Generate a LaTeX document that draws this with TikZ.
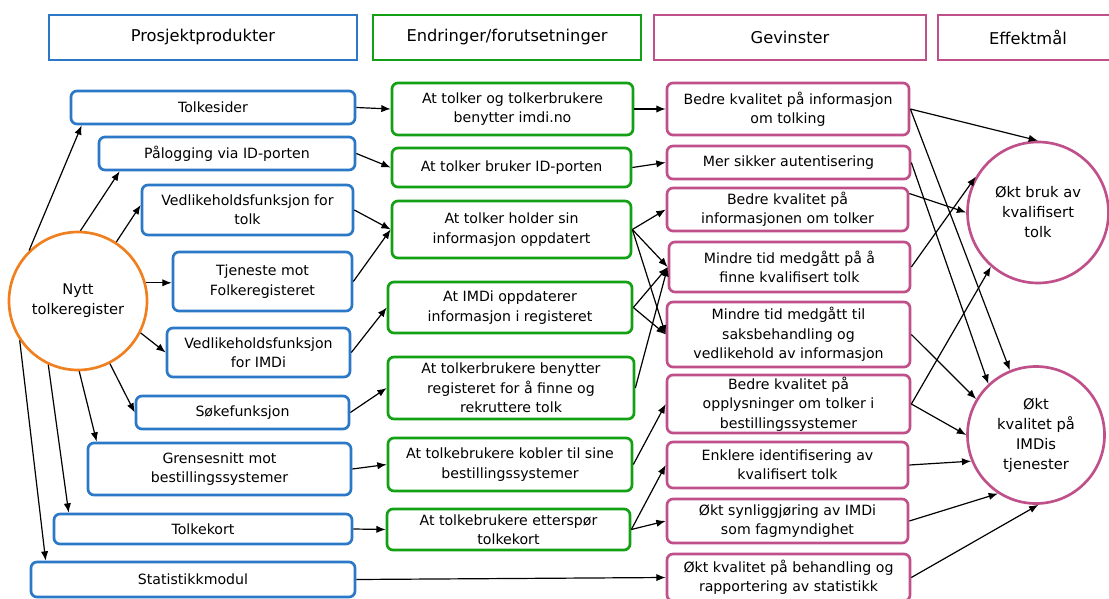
\documentclass[tikz,border=0pt]{standalone}
\usepackage{fontspec}
\setmainfont{DejaVu Sans}
\usetikzlibrary{arrows.meta,calc}
\definecolor{prodblue}{RGB}{43,120,198}
\definecolor{chggreen}{RGB}{20,160,20}
\definecolor{gainpink}{RGB}{192,80,138}
\definecolor{nyttorange}{RGB}{240,127,32}
\tikzset{
  hdr/.style={draw, line width=1.8pt, rectangle, minimum height=33.75pt, inner sep=1pt, font=\fontsize{12.2}{15}\selectfont},
  rbox/.style={draw, line width=2pt, rounded corners=4.5pt, align=center, inner xsep=2pt, inner ysep=1pt, font=\fontsize{10.6}{14.5}\selectfont},
  prod/.style={rbox, draw=prodblue},
  chg/.style={rbox, draw=chggreen},
  gain/.style={rbox, draw=gainpink},
  goal/.style={circle, draw, line width=2pt, align=center, inner sep=0pt, font=\fontsize{11}{15}\selectfont},
  arr/.style={-{Latex[length=7pt,width=5.5pt]}, line width=0.9pt},
}
\begin{document}
\begin{tikzpicture}[x=0.75pt,y=0.75pt,yscale=-1,xscale=1]
\clip (0,0) rectangle (1109,599);

%Headers
\node[hdr, draw=prodblue, minimum width=231pt] (hprod) at (203,37.5) {Prosjektprodukter};
\node[hdr, draw=chggreen, minimum width=201pt] (hchg) at (507,37.5) {Endringer/forutsetninger};
\node[hdr, draw=gainpink, minimum width=204pt] (hgain) at (790,37.5) {Gevinster};
\node[hdr, draw=gainpink, minimum width=135pt] (hgoal) at (1028,37.5) {Effektmål};

%Circle: Nytt tolkeregister
\node[goal, draw=nyttorange, minimum size=103.5pt] (nytt) at (78,301) {Nytt\\tolkeregister};

%Prosjektprodukter
\node[prod, minimum width=213pt, minimum height=24.75pt] (p1) at (213,107.5) {Tolkesider};
\node[prod, minimum width=192pt, minimum height=24.75pt] (p2) at (227,153.5) {Pålogging via ID-porten};
\node[prod, minimum width=158.25pt, minimum height=37.5pt] (p3) at (247.5,210) {Vedlikeholdsfunksjon for\\tolk};
\node[prod, minimum width=134.25pt, minimum height=44.25pt] (p4) at (262.5,281.5) {Tjeneste mot\\Folkeregisteret};
\node[prod, minimum width=137.25pt, minimum height=36.75pt] (p5) at (258.5,352.5) {Vedlikeholdsfunksjon\\for IMDi};
\node[prod, minimum width=159.75pt, minimum height=24.75pt] (p6) at (242.5,412.5) {Søkefunksjon};
\node[prod, minimum width=197.25pt, minimum height=39pt] (p7) at (219.5,469) {Grensesnitt mot\\bestillingssystemer};
\node[prod, minimum width=223.5pt, minimum height=22.5pt] (p8) at (203,529) {Tolkekort};
\node[prod, minimum width=243pt, minimum height=26.25pt] (p9) at (193,579.5) {Statistikkmodul};

%Endringer/forutsetninger
\node[chg, minimum width=180.75pt, minimum height=39pt] (e1) at (512.5,109) {At tolker og tolkerbrukere\\benytter imdi.no};
\node[chg, minimum width=179.25pt, minimum height=29.25pt] (e2) at (511.5,167.5) {At tolker bruker ID-porten};
\node[chg, minimum width=179.25pt, minimum height=42.75pt] (e3) at (511.5,229.5) {At tolker holder sin\\informasjon oppdatert};
\node[chg, minimum width=183pt, minimum height=38.25pt] (e4) at (510,307.5) {At IMDi oppdaterer\\informasjon i registeret};
\node[chg, minimum width=184.5pt, minimum height=46.5pt] (e5) at (511,388) {At tolkerbrukere benytter\\registeret for å finne og\\rekruttere tolk};
\node[chg, minimum width=183pt, minimum height=39.75pt] (e6) at (510,464.5) {At tolkebrukere kobler til sine\\bestillingssystemer};
\node[chg, minimum width=182.25pt, minimum height=30.75pt] (e7) at (508.5,529.5) {At tolkebrukere etterspør\\tolkekort};

%Gevinster
\node[gain, minimum width=181.5pt, minimum height=39pt] (g1) at (788,109) {Bedre kvalitet på informasjon\\om tolking};
\node[gain, minimum width=182.25pt, minimum height=24.75pt] (g2) at (788.5,162.5) {Mer sikker autentisering};
\node[gain, minimum width=180.75pt, minimum height=32.25pt] (g3) at (787.5,209.5) {Bedre kvalitet på\\informasjonen om tolker};
\node[gain, minimum width=180.75pt, minimum height=37.5pt] (g4) at (789.5,267) {Mindre tid medgått på å\\finne kvalifisert tolk};
\node[gain, minimum width=182.25pt, minimum height=48.75pt] (g5) at (788.5,334.5) {Mindre tid medgått til\\saksbehandling og\\vedlikehold av informasjon};
\node[gain, minimum width=182.25pt, minimum height=43.5pt] (g6) at (788.5,404) {Bedre kvalitet på\\opplysninger om tolker i\\bestillingssystemer};
\node[gain, minimum width=180.75pt, minimum height=34.5pt] (g7) at (787.5,465) {Enklere identifisering av\\kvalifisert tolk};
\node[gain, minimum width=180.75pt, minimum height=33pt] (g8) at (787.5,521) {Økt synliggjøring av IMDi\\som fagmyndighet};
\node[gain, minimum width=182.25pt, minimum height=35.25pt] (g9) at (788.5,577.5) {Økt kvalitet på behandling og\\rapportering av statistikk};

%Effektmål
\node[goal, draw=gainpink, minimum size=105.75pt] (bruk) at (1038,212.5) {Økt bruk av\\kvalifisert\\tolk};
\node[goal, draw=gainpink, minimum size=102.75pt] (kval) at (1036,435) {Økt\\kvalitet på\\IMDis\\tjenester};

%Arrows: Nytt tolkeregister -> produkter
\draw[arr] (nytt.134) -- ($(p1.south west)+(12,0)$);
\draw[arr] (nytt.88) -- ($(p2.south west)+(22,0)$);
\draw[arr] (nytt.57) -- ($(p3.west)+(0,-5)$);
\draw[arr] (nytt.15) -- (nytt.15 -| p4.west);
\draw[arr] (nytt.-27) -- (p5.west);
\draw[arr] (nytt.-63) -- (p6.west);
\draw[arr] (nytt.-89) -- ($(p7.north west)+(10,0)$);
\draw[arr] (nytt.-115) -- ($(p8.north west)+(16,0)$);
\draw[arr] (nytt.-146) -- ($(p9.north west)+(16,0)$);

%Arrows: produkter -> endringer
\draw[arr] (p1.east) -- (e1.west);
\draw[arr] (p2.east) -- (e2.west);
\draw[arr] (p3.east) -- (e3.west);
\draw[arr] (p4.east) -- (e3.west);
\draw[arr] (p5.east) -- (e4.west);
\draw[arr] (p6.east) -- (e5.west);
\draw[arr] (p7.east) -- (e6.west);
\draw[arr] (p8.east) -- (e7.west);
\draw[arr] (p9.east) -- (g9.west);

%Arrows: endringer -> gevinster
\draw[arr] (e1.east) -- (g1.west);
\draw[arr] (e2.east) -- (g2.west);
\draw[arr] (e3.east) -- (g3.west);
\draw[arr] (e3.east) -- (g4.west);
\draw[arr] (e3.east) -- (g5.west);
\draw[arr] (e4.east) -- (g4.west);
\draw[arr] (e4.east) -- (g5.west);
\draw[arr] (e5.east) -- (g4.west);
\draw[arr] (e6.east) -- (g6.west);
\draw[arr] (e7.east) -- (g7.west);
\draw[arr] (e7.east) -- (g8.west);

%Arrows: gevinster -> effektmål
\draw[arr] (g1.east) -- (bruk.north);
\draw[arr] (g1.east) -- (kval.112);
\draw[arr] (g2.east) -- (kval.133);
\draw[arr] ($(g3.east)+(0,-16)$) -- (bruk.west);
\draw[arr] (g4.east) -- (bruk.150);
\draw[arr] (g5.east) -- (kval.149);
\draw[arr] (g6.east) -- (bruk.229);
\draw[arr] (g6.east) -- (kval.west);
\draw[arr] (g7.east) -- (kval.202);
\draw[arr] (g8.east) -- (kval.237);
\draw[arr] (g9.east) -- (kval.272);

\end{tikzpicture}
\end{document}
